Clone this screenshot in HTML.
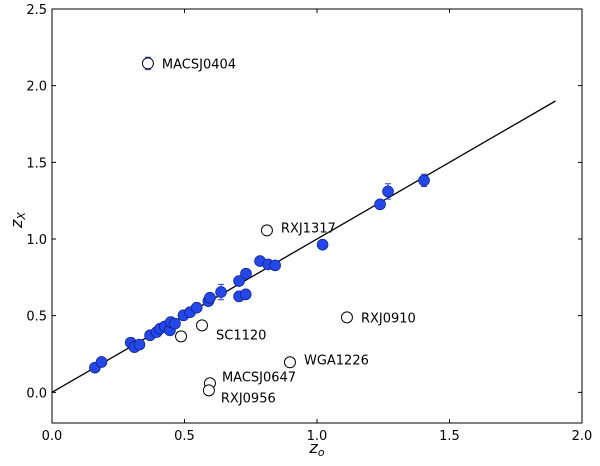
<!DOCTYPE html>
<html><head><meta charset="utf-8"><style>
body{margin:0;background:#fff;}
svg text{font-family:"DejaVu Sans","Liberation Sans",sans-serif;}
</style></head><body>
<svg id="c" width="600" height="461"></svg>
<script>
const filledX=[0.162,0.187,0.297,0.311,0.330,0.370,0.395,0.408,0.426,0.445,0.448,0.464,0.496,0.521,0.546,0.590,0.596,0.638,0.706,0.732,0.706,0.731,0.785,0.816,0.842,1.021,1.238,1.268,1.404];
const filledY=[0.161,0.198,0.324,0.295,0.311,0.372,0.393,0.415,0.430,0.404,0.458,0.448,0.502,0.523,0.552,0.595,0.617,0.654,0.726,0.774,0.626,0.639,0.856,0.834,0.828,0.963,1.226,1.310,1.382];
const filledErr=[0,0,0,0,0,0,0,0,0,0,0,0,0,0,0,0,0,0.05,0,0,0,0,0,0,0,0,0,0.05,0.04];
const openX=[0.362,0.811,1.113,0.566,0.487,0.898,0.596,0.592];
const openY=[2.145,1.056,0.489,0.437,0.365,0.196,0.059,0.013];
const openLabels=["MACSJ0404","RXJ1317","RXJ0910","SC1120","","WGA1226","MACSJ0647","RXJ0956"];
const labelDx=[14,14,14,14,0,14,12,12];
const labelDy=[5,2,5,14,0,2,-2,12];
const xTicks=[0,0.5,1.0,1.5,2.0];
const yTicks=[0,0.5,1.0,1.5,2.0,2.5];
const L=52,R=582,T=9,B=423,xmin=0,xmax=2,ymin=-0.2,ymax=2.5;
const sx=v=>L+(v-xmin)/(xmax-xmin)*(R-L);
const sy=v=>B-(v-ymin)/(ymax-ymin)*(B-T);
const svg=document.getElementById('c');
const NS='http://www.w3.org/2000/svg';
function mk(t,a,p){const e=document.createElementNS(NS,t);for(const k in a)e.setAttribute(k,a[k]);(p||svg).appendChild(e);return e;}
let e;
e=mk('line',{x1:sx(0),y1:sy(0),x2:sx(1.9),y2:sy(1.9),stroke:'#000','stroke-width':1.3});


filledX.forEach((x,i)=>{
 if(filledErr[i]>0){const l=mk('path',{d:`M${sx(x)},${sy(filledY[i]-filledErr[i])}V${sy(filledY[i]+filledErr[i])}M${sx(x)-3},${sy(filledY[i]-filledErr[i])}h6M${sx(x)-3},${sy(filledY[i]+filledErr[i])}h6`,stroke:'#2a3fd0',fill:'none'});
 
 }
 const c=mk('circle',{cx:sx(x),cy:sy(filledY[i]),r:5.5,fill:'#2447e8',stroke:'#0a1a7a','stroke-width':0.6});
 
 
});
openX.forEach((x,i)=>{
 if(i===0){const l=mk('path',{d:`M${sx(x)},${sy(openY[i]-0.04)}V${sy(openY[i]+0.04)}M${sx(x)-3},${sy(openY[i]-0.04)}h6M${sx(x)-3},${sy(openY[i]+0.04)}h6`,stroke:'#2a3fd0',fill:'none'});
 
 }
 const c=mk('circle',{cx:sx(x),cy:sy(openY[i]),r:5.5,fill:'#fff',stroke:'#000','stroke-width':1});
 
 
 if(openLabels[i]){const t=mk('text',{x:sx(x)+labelDx[i],y:sy(openY[i])+labelDy[i],'font-size':13});t.textContent=openLabels[i];
 
 }
});
e=mk('rect',{x:L,y:T,width:R-L,height:B-T,fill:'none',stroke:'#000','stroke-width':1});


xTicks.forEach(v=>{mk('path',{d:`M${sx(v)},${B}v-4M${sx(v)},${T}v4`,stroke:'#000'});
 const t=mk('text',{x:sx(v),y:B+17,'font-size':13,'text-anchor':'middle'});t.textContent=v.toFixed(1);
 
 });
yTicks.forEach(v=>{mk('path',{d:`M${L},${sy(v)}h4M${R},${sy(v)}h-4`,stroke:'#000'});
 const t=mk('text',{x:L-5,y:sy(v)+5,'font-size':13,'text-anchor':'end'});t.textContent=v.toFixed(1);
 
 });
e=mk('text',{x:317,y:453,'font-size':16,'font-style':'italic','font-family':'Liberation Serif,serif','text-anchor':'middle'});
e.innerHTML='z<tspan font-size="11" dy="3">o</tspan>';


e=mk('text',{x:22,y:220,'font-size':16,'font-style':'italic','font-family':'Liberation Serif,serif','text-anchor':'middle',transform:'rotate(-90 22 220)'});
e.innerHTML='z<tspan font-size="11" dy="3">X</tspan>';


</script>
</body></html>
